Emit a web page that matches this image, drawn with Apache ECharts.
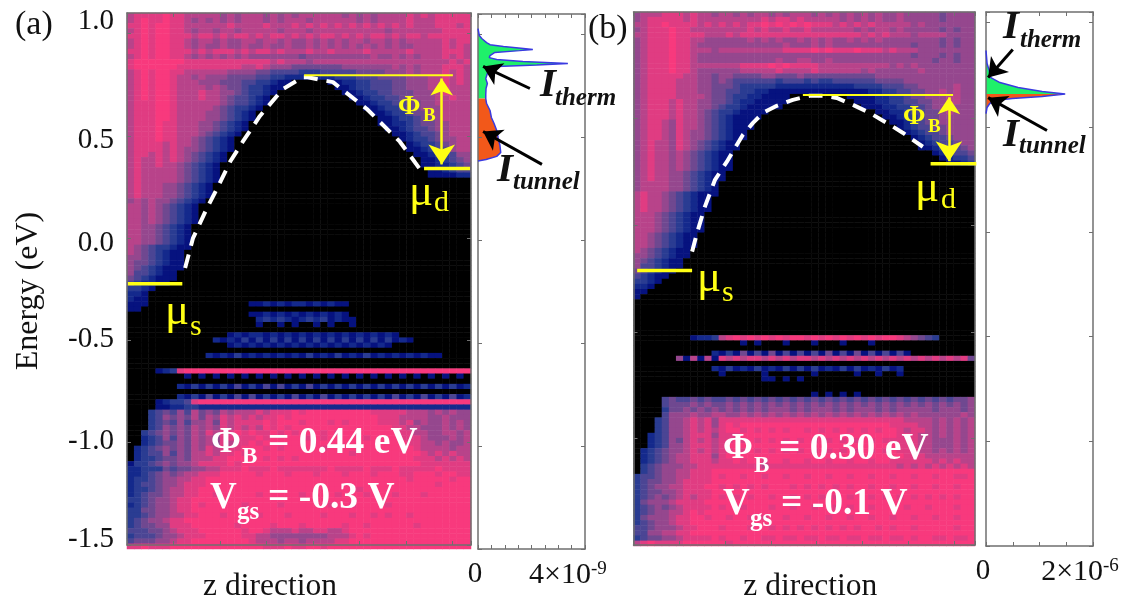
<!DOCTYPE html>
<html><head><meta charset="utf-8">
<style>html,body{margin:0;padding:0;background:#fff}#c{width:1131px;height:608px}#c canvas{filter:blur(0.7px)}</style>
<script src="https://cdn.jsdelivr.net/npm/echarts@6/dist/echarts.min.js"></script>
</head><body><div id="c"></div>
<script>
const palette=['#000000','#06127f','#14298c','#2a3c92','#4b4594','#6f4890','#95478e','#b8438a','#e03c82','#f8397d'];
const rowsA=[
"788889 887777 767677 767676 777777 676767 777878 788888",
"789889 887676 767677 767677 767777 776767 777877 788888",
"889899 887777 778777 787778 787878 787878 787877 788878",
"789899 887677 677677 777677 767777 777777 677777 778888",
"889899 888788 787887 878878 787887 878788 787887 888888",
"789899 887677 676677 677676 676767 677677 676777 778788",
"789899 887676 676676 676676 676767 676767 676677 778787",
"889899 888787 888787 887877 787787 777877 777877 778887",
"789899 887676 767676 666666 566666 666676 676767 778787",
"899999 998888 888888 887877 767777 777777 777777 777878",
"899999 988888 888877 876665 555555 666666 676767 778887",
"789899 887777 776666 554444 333444 445555 666767 778787",
"789899 877676 665555 443322 222223 334445 555666 778787",
"789899 877766 655544 332110 000011 223344 455666 778787",
"789899 877776 765543 321100 000001 123344 455666 778777",
"789899 877787 766543 321000 000000 112334 455566 678777",
"789899 877787 765443 210000 000000 011233 445566 677877",
"788899 877777 765443 210000 000000 001123 344556 677777",
"788899 877777 654332 100000 000000 000112 334556 667777",
"788899 877776 654321 000000 000000 000011 233455 667777",
"788899 877776 654321 000000 000000 000001 123345 567777",
"788898 877766 543210 000000 000000 000001 122345 566777",
"788898 877766 543210 000000 000000 000000 112344 566777",
"788898 877765 432100 000000 000000 000000 011234 456777",
"788898 877654 321000 000000 000000 000000 001233 456677",
"788887 877654 321000 000000 000000 000000 000123 345677",
"788887 876654 321000 000000 000000 000000 000112 344677",
"788787 876543 210000 000000 000000 000000 000011 233466",
"787787 876543 210000 000000 000000 000000 000001 123456",
"787787 765432 100000 000000 000000 000000 000001 122345",
"787777 765432 100000 000000 000000 000000 000000 112344",
"787777 765432 100000 000000 000000 000000 000000 111122",
"787777 765432 1",
"787776 654321",
"787776 654321",
"787776 654321",
"676766 543210",
"776765 432100",
"776765 432100",
"776765 432100",
"776765 432100",
"776654 321000",
"776654 321000",
"776654 321000",
"776654 321000",
"765433 211000",
"765432 110000",
"665432 110000",
"655432 110000",
"654321 110000",
"644321 100000",
"543211 100000",
"432211",
"332100",
"221000",
"211000",
"111000 000000 000001 121212 212121 1",
"11",
"000000 000000 000001 121212 121212 1",
"000000 000000 000000 232321 232312 11",
"000000 000000 000000 100101 001010 01",
"",
"000000 000000 001212 212121 212121 212121 21",
"000000 000000 212131 313131 313131 313131 3121",
"000000 000000 001212 121212 121212 121212 1",
"",
"000000 000002 121312 121212 131213 121312 121212 11",
"",
"",
"000012 389999 999999 999999 999999 999999 999999 999999",
"000000 001010 101010 101010 101010 101010 101010 101010",
"",
"000000 021313 131413 141413 141313 131313 131313 131312",
"",
"000000 021314 131414 131314 131413 131313 141314 131412",
"000012 334899 999999 999999 999999 999999 999999 999999",
"000011 223322 222222 222222 222222 222222 222222 222222",
"000345 464756 576777 878889 899999 999988 888777 676766",
"000346 565757 687878 788989 999999 999998 887777 667666",
"000345 464667 587888 898999 899989 899998 887867 667676",
"000346 565767 687878 798989 999999 999999 988776 667676",
"003456 565768 788989 889898 999898 999999 998877 667767",
"002346 465767 688888 989999 989899 999899 998887 666767",
"002345 565767 687889 899999 999999 999999 999887 767667",
"023456 565768 788899 989899 999899 999999 999987 777677",
"023446 465778 788989 999999 999999 989999 999998 787877",
"023345 565777 889999 989898 999999 999999 999988 878787",
"133456 566788 889899 999999 999999 999999 999998 888888",
"223335 455667 788898 889888 888898 888988 898888 898888",
"223456 567788 899999 899989 998999 899989 998899 989988",
"233456 677889 999999 999999 999999 999999 999899 999899",
"234456 678889 999999 999999 999999 999999 999999 989999",
"233456 778899 999999 999999 999999 998999 999999 999999",
"234556 778899 899999 899999 899998 999899 989998 999999",
"334566 788999 999999 999999 999999 999999 999999 999999",
"234566 788989 999989 999899 999989 989999 899999 999999",
"335566 788999 999999 999999 999999 999999 999999 999999",
"334566 778899 989999 899989 999899 989989 899899 999999",
"345667 889999 999999 999999 999999 999999 999999 999999",
"345566 888999 999899 998999 899999 899899 999989 999999",
"444556 788899 999989 987778 778877 899999 999999 999999",
"344456 678889 999988 776666 666677 789899 999999 999999",
"455566 788999 999998 777677 677778 899999 999999 999999",
"889888 999999 999999 988898 899899 999999 999999 999999"];
const rowsB=[
"677788 878776 776767 767677 767676 767676 676666 656666",
"678888 878777 777777 878878 777776 767676 676666 656666",
"778898 888787 878788 989898 988878 787877 777676 666666",
"678889 887777 777787 877877 877777 767677 676666 656566",
"778889 888877 787888 888888 888888 887878 777677 776666",
"678889 887766 666676 767667 676766 767676 666666 656566",
"678889 887666 666666 666766 676766 666666 666566 656566",
"678889 887776 777777 777888 898988 898887 877766 666666",
"678889 887666 666666 666666 666666 666666 666566 656566",
"678889 887666 666666 667667 766766 666666 666666 566566",
"678889 887777 777888 898988 887777 777777 676766 666666",
"678889 887666 666777 778777 787777 776766 666676 666666",
"678888 877665 665555 665556 555555 555566 666666 666666",
"678888 777665 654444 443444 343344 444455 556666 666666",
"678888 777665 554333 332222 222222 233334 445566 666766",
"678888 777665 544332 211111 111111 111223 344556 676766",
"678888 777765 543322 111100 000000 111122 334556 667766",
"678887 877665 543221 111100 000000 011122 334455 667766",
"678887 877665 433211 111000 000000 001112 233445 667666",
"678887 877654 332111 100000 000000 000011 223445 567666",
"678887 877654 321111 000000 000000 000001 123345 566666",
"678876 877654 321110 000000 000000 000000 112345 566666",
"678876 877654 321110 000000 000000 000000 012344 556666",
"678876 876654 321100 000000 000000 000000 001234 456666",
"678876 876654 321100 000000 000000 000000 000123 445666",
"678776 876543 211000 000000 000000 000000 000012 344566",
"678776 876543 211000 000000 000000 000000 000011 234456",
"678776 765432 110000 000000 000000 000000 000000 123445",
"678776 765432 110000 000000 000000 000000 000000 012334",
"678776 765432 110000 000000 000000 000000 000000 001123",
"678776 765432 11",
"678776 654321 1",
"678776 654321 1",
"677776 654321",
"677776 654321",
"787765 432111",
"787765 432110",
"787765 432110",
"787765 432110",
"777654 321100",
"777654 321100",
"777654 321100",
"777654 321100",
"776543 211000",
"776543 211000",
"776543 211000",
"765432 110000",
"665432 110000",
"654321 1",
"644321 1",
"543211",
"432110",
"332100",
"221",
"11",
"1",
"","","","","","","",
"000000 001223 789898 989899 898989 898989 987654 3",
"000000 000000 000101 000100 010001 0001",
"",
"000000 000002 131514 151414 141514 151414 141",
"000000 617171 878788 787878 878787 878787 878787 878785",
"",
"000000 000002 131213 121313 131213 131213 12",
"000000 000000 100000 100000 010000 010010 01",
"000000 000000 000000 110101",
"","",
"000000 000000 000000 000000 010101 01",
"000045 445454 454545 454545 454545 454545 454545 454556",
"000045 556565 565656 565656 565656 565656 565656 565656",
"000035 565656 565656 566656 566656 566656 566666 566656",
"000046 667667 766767 676767 676767 676767 676766 666676",
"000346 678786 888888 888888 888888 888888 887777 676767",
"000346 678786 898999 999999 999999 999999 888877 676767",
"000346 678787 899898 989899 898989 898989 987887 676767",
"002346 678886 888999 999999 999999 999999 988877 676767",
"002346 578787 889898 989898 989898 989898 888877 666767",
"002346 678887 899999 999999 999999 999999 988877 666767",
"023456 678787 889898 989898 989898 989898 988877 676767",
"023456 778886 899999 999999 999999 999999 998887 777777",
"023456 778887 889899 899899 899899 899899 888888 787877",
"034566 677888 888888 788888 888888 888888 878787 878787",
"034566 778889 999999 999999 999999 999999 999999 999999",
"344566 778889 899899 899899 899899 899899 899899 899889",
"345566 788889 999999 999999 999999 999999 999999 999999",
"345667 788899 898989 899989 898989 899899 899899 899899",
"345566 788889 999999 999999 999999 999999 999999 999999",
"345656 787889 898989 989989 898989 899898 989898 989899",
"356667 888899 999999 999999 999999 999999 999999 999999",
"345656 788889 899899 989989 989989 899899 998998 999899",
"345667 789899 999999 999999 999999 999999 999999 999999",
"356667 889989 989989 899899 899899 899899 899899 899899",
"345667 889999 999999 999999 999999 999999 999999 999999",
"445666 788999 899989 989898 989898 989989 899899 999899",
"446677 889999 999999 999999 999999 999999 999999 999999",
"345566 788889 899899 889889 889889 889889 889899 889889",
"789888 899999 989999 999999 999999 999999 999999 999999"];

const energyTicks=[-1.5,-1,-0.5,0,0.5,1];
const energyLabels=['-1.5','-1.0','-0.5','0.0','0.5','1.0'];
const energyLabelAt=[-1.471,-0.995,-0.495,-0.024,0.476,1.058];

const domeZA=[1.25,1.42,1.72,1.94,2.22,2.49,2.86,3.35,3.78,3.89,4.43,5.16,5.87,6.37];
const domeEA=[-0.146,0,0.146,0.243,0.374,0.471,0.597,0.728,0.786,0.786,0.762,0.631,0.471,0.316];
const domeZB=[1.28,1.39,1.56,1.78,2.04,2.22,2.39,2.61,2.83,3.13,3.48,3.85,4.14,4.44,4.79,5.16,5.53,5.88,6.32];
const domeEB=[-0.124,-0.035,0.087,0.213,0.298,0.363,0.424,0.48,0.527,0.56,0.588,0.607,0.607,0.597,0.565,0.527,0.48,0.434,0.368];

const curveEA=[1.029,0.995,0.981,0.961,0.951,0.942,0.932,0.927,0.922,0.913,0.898,0.888,0.879,0.869,0.859,0.852,0.845,0.83,0.811,0.786,0.762,0.738,0.709,0.689,0.665,0.631,0.597,0.568,0.534,0.5,0.461,0.427,0.408,0.393,0.386];
const curveIA=[0,0.05,0.14,0.32,0.45,0.95,1.7,2.05,1.55,0.63,0.45,0.42,0.7,1.68,3.36,2.2,0.7,0.45,0.35,0.29,0.35,0.3,0.29,0.29,0.32,0.45,0.5,0.6,0.7,0.75,0.82,0.85,0.7,0.3,0];
const splitEA=0.689;
const curveEB=[0.866,0.804,0.771,0.737,0.713,0.689,0.67,0.658,0.646,0.637,0.627,0.613,0.594,0.565];
const curveIB=[0,0.02,0.06,0.09,0.26,0.6,1.05,1.48,1.05,0.49,0.17,0.07,0.02,0];
const splitEB=0.658;

const serif='"Liberation Serif","Times New Roman",serif';
const FRAME='#6f6f6f', YEL='#ffff14';
const grid=[],xAxis=[],yAxis=[],series=[];
const parse=rows=>rows.map(r=>r.replace(/ /g,'').padEnd(48,'0'));
const range=n=>Array.from({length:n},(_,i)=>i);
function heatCells(rows){const d=[];parse(rows).forEach((s,r)=>{for(let c=0;c<48;c++)d.push([c,r,+s[c]]);});return d;}

function addHeat(box,rows){
  const g=grid.length;grid.push(box);
  const xi=xAxis.length,yi=yAxis.length;
  xAxis.push({type:'category',gridIndex:g,show:false,data:range(48)});
  yAxis.push({type:'category',gridIndex:g,show:false,inverse:true,data:range(rows.length)});
  series.push({type:'heatmap',xAxisIndex:xi,yAxisIndex:yi,data:heatCells(rows),progressive:0,itemStyle:{borderWidth:0},z:1,emphasis:{disabled:true}});
}
const line={show:true,onZero:false,lineStyle:{color:FRAME,width:1.5}};
const tick={show:true,inside:true,length:4,lineStyle:{color:FRAME,width:1}};
function addFrame(box,xc,yc,xExtra,yExtra){
  const g=grid.length;grid.push(box);
  const xi=xAxis.length,yi=yAxis.length;
  const xb={type:'value',gridIndex:g,min:xc[0],max:xc[1],interval:xc[2],axisLine:line,axisTick:tick,axisLabel:{show:false},splitLine:{show:false}};
  const yb={type:'value',gridIndex:g,min:yc[0],max:yc[1],interval:yc[2],axisLine:line,axisTick:tick,axisLabel:{show:false},splitLine:{show:false}};
  xAxis.push(Object.assign({},xb,{position:'bottom',z:5},xExtra||{}),Object.assign({},xb,{position:'top',z:5}));
  yAxis.push(Object.assign({},yb,{position:'left',z:5},yExtra||{}),Object.assign({},yb,{position:'right',z:5}));
  return {x:xi,y:yi};
}
const boxAm={left:127,top:13,width:344,height:536};
const boxAs={left:478,top:14,width:107,height:535};
const boxBm={left:633.5,top:12,width:341.5,height:534};
const boxBs={left:986,top:12,width:107,height:534};
const nameStyle={color:'#111',fontFamily:serif,fontSize:31.5};
const sideLabel=(vals,txt)=>({show:true,customValues:vals,margin:11,color:'#111',fontFamily:serif,fontSize:30,
  formatter:v=>v===0?'{z|0}':'{b|'+txt[0]+'}{s|'+txt[1]+'}',
  rich:{z:{fontFamily:serif,fontSize:29,color:'#111',padding:[0,6,0,0]},b:{fontFamily:serif,fontSize:30,color:'#111'},s:{fontFamily:serif,fontSize:19,color:'#111',verticalAlign:'top'}}});

addHeat(boxAm,rowsA);
const mA=addFrame(boxAm,[0,7.4,1],[-1.5,1.1,0.5],
 {name:'z direction',nameLocation:'middle',nameGap:26,nameTextStyle:Object.assign({padding:[0,58,0,0]},nameStyle)},
 {name:'Energy (eV)',nameLocation:'middle',nameGap:82,nameTextStyle:Object.assign({padding:[0,24,0,0]},nameStyle,{fontSize:32}),
  axisTick:Object.assign({},tick,{customValues:energyTicks}),
  axisLabel:{show:true,customValues:energyLabelAt,margin:13,color:'#111',fontFamily:serif,fontSize:29,
   formatter:v=>energyLabels[energyLabelAt.indexOf(v)]}});
const sA=addFrame(boxAs,[0,4,0.5],[-1.5,1.1,0.5],{axisLabel:sideLabel([0,3.36],['4×10','-9'])});
addHeat(boxBm,rowsB);
const mB=addFrame(boxBm,[0,7.46,1],[-1.5,1,0.5],
 {name:'z direction',nameLocation:'middle',nameGap:26,nameTextStyle:Object.assign({padding:[0,0,0,12]},nameStyle)});
const sB=addFrame(boxBs,[0,2,0.5],[-1.5,1.05,0.5],{axisLabel:sideLabel([0,1.757],['2×10','-6'])});

function lineS(ax,pts,color,width,extra){
  series.push(Object.assign({type:'line',xAxisIndex:ax.x,yAxisIndex:ax.y,data:pts,showSymbol:false,symbol:'none',silent:true,clip:false,z:6,animation:false,
    lineStyle:{color:color,width:width}},extra||{}));
}
function arrowS(ax,from,to,color,width,size,both){
  series.push({type:'lines',coordinateSystem:'cartesian2d',xAxisIndex:ax.x,yAxisIndex:ax.y,z:8,silent:true,clip:false,
    symbol:[both?'arrow':'none','arrow'],symbolSize:size,lineStyle:{color:color,width:width,opacity:1,curveness:0},
    data:[{coords:[from,to]}]});
}
function fillS(ax,pts,color){
  series.push({type:'custom',xAxisIndex:ax.x,yAxisIndex:ax.y,data:pts,z:4,silent:true,clip:false,
    renderItem:(p,api)=>{
      if(p.dataIndex!==0)return null;
      const poly=[api.coord([0,pts[0][1]])].concat(pts.map(q=>api.coord(q)),[api.coord([0,pts[pts.length-1][1]])]);
      return {type:'polygon',shape:{points:poly},style:{fill:color}};
    }});
}
const zip=(xs,ys)=>xs.map((x,i)=>[x,ys[i]]);
const curveA=zip(curveIA,curveEA),curveB=zip(curveIB,curveEB);
const GREEN='#1ff06a',ORANGE='#f2581a',BLUE='#3a3ae0';
fillS(sA,curveA.filter(p=>p[1]>=splitEA),GREEN);
fillS(sA,curveA.filter(p=>p[1]<=splitEA),ORANGE);
fillS(sB,curveB.filter(p=>p[1]>=splitEB),GREEN);
fillS(sB,curveB.filter(p=>p[1]<=splitEB),ORANGE);
lineS(sA,curveA,BLUE,1.5);
lineS(sB,curveB,BLUE,1.5);

lineS(mA,zip(domeZA,domeEA),'#ffffff',4,{lineStyle:{color:'#fff',width:4,type:[14,9]}});
lineS(mB,zip(domeZB,domeEB),'#ffffff',4,{lineStyle:{color:'#fff',width:4,type:[14,9]}});
lineS(mA,[[3.81,0.796],[7.01,0.796]],YEL,2);
lineS(mA,[[6.39,0.34],[7.38,0.34]],YEL,3.5);
lineS(mA,[[0.02,-0.223],[1.19,-0.223]],YEL,3.5);
arrowS(mA,[6.77,0.78],[6.77,0.36],YEL,2.5,[17,20],true);
lineS(mB,[[3.7,0.611],[6.98,0.611]],YEL,2);
lineS(mB,[[6.49,0.288],[7.49,0.288]],YEL,3.5);
lineS(mB,[[0.08,-0.213],[1.28,-0.213]],YEL,3.5);
arrowS(mB,[6.89,0.6],[6.89,0.3],YEL,2.5,[17,20],true);
arrowS(sA,[1.94,0.738],[0.19,0.845],'#000',3,[15,18]);
arrowS(sA,[2.39,0.369],[0.19,0.529],'#000',3,[15,18]);
arrowS(sB,[0.5,0.871],[0.04,0.737],'#000',3,[15,18]);
arrowS(sB,[1.14,0.484],[0.04,0.641],'#000',3,[15,18]);

// text, left x, middle y, size, colour, weight, style
const notes=[
['(a)',15,25,34,'#111','normal','normal'],
['(b)',588,29,34,'#111','normal','normal'],
['Φ',398,107,27,YEL,'bold','normal'],['B',423,116,19,YEL,'bold','normal'],
['μ',409,193,45,YEL,'normal','normal'],['d',434,203,30,YEL,'normal','normal'],
['μ',165,312,45,YEL,'normal','normal'],['s',190,327,30,YEL,'normal','normal'],
['Φ',211,443,36,'#fff','bold','normal'],['B',242,457,23,'#fff','bold','normal'],
['= 0.44 eV',268,443,37.5,'#fff','bold','normal'],
['V',210,498,37,'#fff','bold','normal'],['gs',237,513,25,'#fff','bold','normal'],
['= -0.3 V',268,498,37.5,'#fff','bold','normal'],
['I',540,85,41,'#111','bold','italic'],['therm',555,99,25,'#111','bold','italic'],
['I',497,170,41,'#111','bold','italic'],['tunnel',513,183,25,'#111','bold','italic'],
['Φ',903,117,27,YEL,'bold','normal'],['B',928,127,19,YEL,'bold','normal'],
['μ',915,189,45,YEL,'normal','normal'],['d',941,200,30,YEL,'normal','normal'],
['μ',697,279,45,YEL,'normal','normal'],['s',722,293,30,YEL,'normal','normal'],
['Φ',723,449,36,'#fff','bold','normal'],['B',754,466,23,'#fff','bold','normal'],
['= 0.30 eV',779,449,37.5,'#fff','bold','normal'],
['V',723,504,37,'#fff','bold','normal'],['gs',750,520,25,'#fff','bold','normal'],
['= -0.1 V',781,504,37.5,'#fff','bold','normal'],
['I',1003,27,41,'#111','bold','italic'],['therm',1020,41,25,'#111','bold','italic'],
['I',1003,135,41,'#111','bold','italic'],['tunnel',1019,147,25,'#111','bold','italic']];
const graphic=notes.map(n=>({type:'text',x:n[1],y:n[2],z:100,silent:true,style:{text:n[0],fontFamily:serif,fontSize:n[3],fill:n[4],fontWeight:n[5],fontStyle:n[6],align:'left',verticalAlign:'middle'}}));

const chart=echarts.init(document.getElementById('c'),null,{renderer:'canvas'});
chart.setOption({animation:false,backgroundColor:'#fff',grid,xAxis,yAxis,series,graphic,
  visualMap:{show:false,min:0,max:9,seriesIndex:series.map((s,i)=>s.type==='heatmap'?i:-1).filter(i=>i>=0),inRange:{color:palette}}});
</script></body></html>
